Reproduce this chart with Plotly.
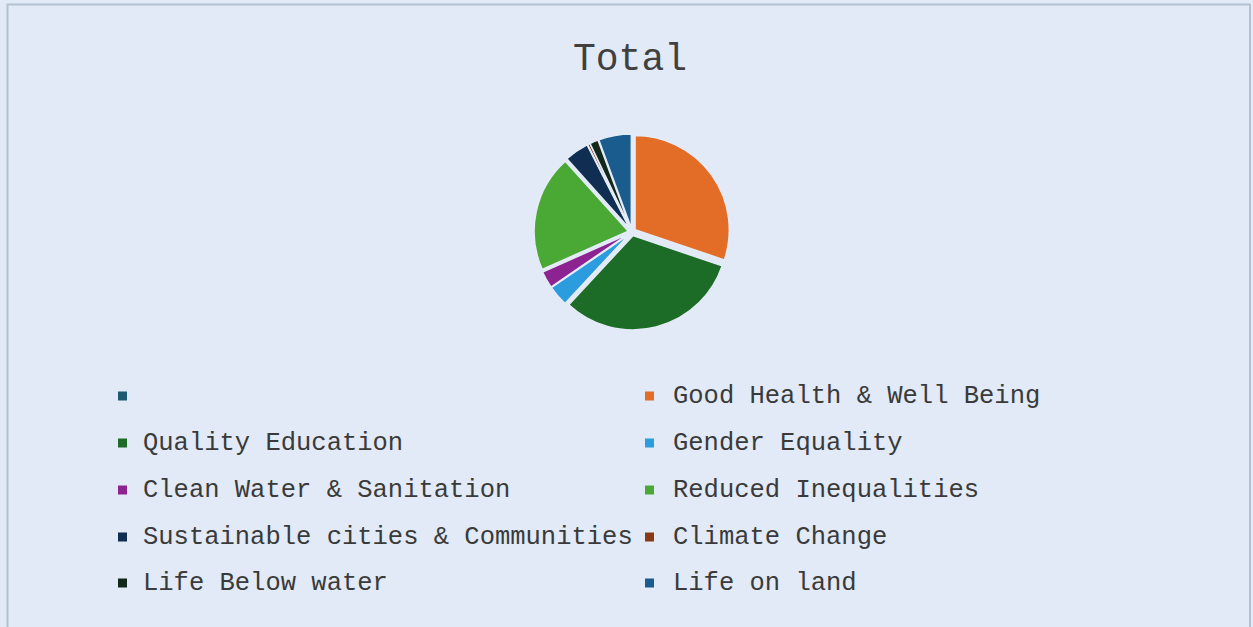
import plotly.graph_objects as go

W, H = 1253, 627

labels = ["", "Good Health & Well Being", "Quality Education", "Gender Equality",
          "Clean Water & Sanitation", "Reduced Inequalities",
          "Sustainable cities & Communities", "Climate Change",
          "Life Below water", "Life on land"]
values = [0, 29.0, 30.5, 3.4, 2.8, 19.2, 4.0, 0.4, 1.4, 5.4]
colors = ["#1d5b70", "#e36d27", "#1c6b27", "#2b9cdd", "#8c2391", "#4aa834",
          "#0f2e52", "#8a3a12", "#11281a", "#1a5c8e"]

title_text = "Total"
font_mono = "Liberation Mono"

fig = go.Figure()
fig.add_trace(go.Pie(
    labels=labels, values=values,
    marker=dict(colors=colors, line=dict(color="#e4ecf7", width=1.5)),
    sort=False, direction="clockwise", rotation=0,
    pull=0.04, textinfo="none", hoverinfo="label+value+percent",
    showlegend=False,
    domain=dict(x=[(632 - 98) / W, (632 + 98) / W],
                y=[1 - (232 + 98) / H, 1 - (232 - 98) / H]),
))

# legend drawn from the label/colour lists in two columns
col_marker_x = [118, 645]
col_text_x = [141, 671]
row_y = [396, 443, 490, 537, 583]
shapes = []
annotations = []
for i, (lab, col) in enumerate(zip(labels, colors)):
    r, c = divmod(i, 2)
    yc = row_y[r]
    shapes.append(dict(type="rect", xref="paper", yref="paper",
                       x0=col_marker_x[c] / W, x1=(col_marker_x[c] + 9) / W,
                       y0=1 - (yc + 4.5) / H, y1=1 - (yc - 4.5) / H,
                       fillcolor=col, line=dict(width=0)))
    annotations.append(dict(xref="paper", yref="paper",
                            x=col_text_x[c] / W, y=1 - yc / H,
                            xanchor="left", yanchor="middle",
                            text=lab, showarrow=False,
                            font=dict(family=font_mono, size=25.5, color="#3a3a3a")))

# frame
shapes.append(dict(type="rect", xref="paper", yref="paper",
                   x0=7.5 / W, x1=1250 / W, y0=-0.05, y1=1 - 4.5 / H,
                   line=dict(color="#b4c1d2", width=2), fillcolor="rgba(0,0,0,0)",
                   layer="below"))

annotations.append(dict(xref="paper", yref="paper", x=630 / W, y=1 - 59 / H,
                        xanchor="center", yanchor="middle", text=title_text,
                        showarrow=False,
                        font=dict(family=font_mono, size=38, color="#404040")))

fig.update_layout(
    width=W, height=H,
    margin=dict(l=0, r=0, t=0, b=0),
    paper_bgcolor="#e1eaf6",
    plot_bgcolor="#e1eaf6",
    shapes=shapes,
    annotations=annotations,
    showlegend=False,
)

fig.write_html("out.html", config={"displayModeBar": False},
               post_script="document.body.style.margin='0';document.body.style.overflow='hidden';")
